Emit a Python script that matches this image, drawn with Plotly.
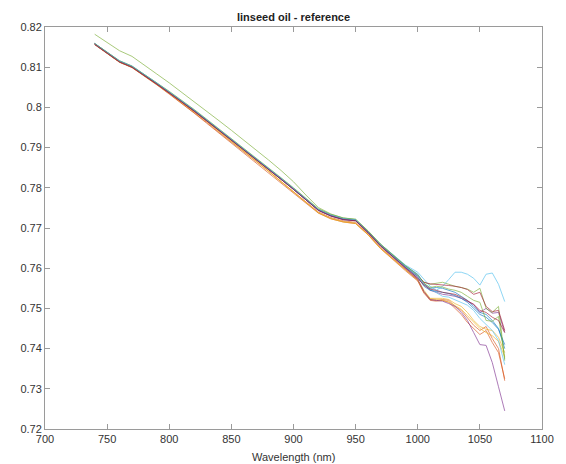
import plotly.graph_objects as go

wavelength = [740, 750, 760, 770, 780, 790, 800, 810, 820, 830, 840, 850, 860, 870, 880, 890,
              900, 910, 920, 930, 940, 950, 960, 970, 980, 990, 1000,
              1005, 1010, 1015, 1020, 1025, 1030, 1035, 1040, 1045, 1050, 1055, 1060, 1065, 1070]

s01 = [.8159,.8137,.8115,.8102,.8082,.8060,.8038,.8016,.7993,.7969,.7945,.7921,.7897,.7873,.7849,.7823,.7798,.7771,.7746,.7732,.7723,.7720,.7691,.7658,.7631,.7606,.7585,
       .7562,.7550,.7552,.7550,.7545,.7540,.7530,.7520,.7505,.7490,.7485,.7470,.7450,.7400]
s02 = [.8157,.8134,.8113,.8100,.8079,.8057,.8034,.8011,.7988,.7963,.7938,.7914,.7889,.7865,.7841,.7815,.7790,.7764,.7740,.7726,.7718,.7714,.7686,.7652,.7625,.7598,.7570,
       .7540,.7522,.7520,.7522,.7520,.7505,.7495,.7475,.7458,.7445,.7455,.7425,.7400,.7320]
s03 = [.8157,.8134,.8113,.8100,.8080,.8058,.8036,.8013,.7990,.7966,.7941,.7917,.7892,.7867,.7842,.7816,.7790,.7763,.7738,.7724,.7716,.7712,.7684,.7650,.7623,.7597,.7572,
       .7545,.7525,.7525,.7525,.7522,.7512,.7505,.7490,.7470,.7455,.7448,.7445,.7428,.7390]
s04 = [.8158,.8135,.8114,.8101,.8081,.8059,.8037,.8015,.7992,.7968,.7944,.7920,.7896,.7872,.7848,.7822,.7797,.7770,.7745,.7731,.7722,.7719,.7689,.7656,.7629,.7603,.7575,
       .7560,.7545,.7540,.7535,.7533,.7530,.7525,.7518,.7510,.7490,.7500,.7488,.7490,.7440]
s05 = [.8182,.8162,.8141,.8127,.8106,.8083,.8061,.8038,.8015,.7991,.7967,.7943,.7919,.7894,.7869,.7843,.7815,.7782,.7751,.7735,.7725,.7721,.7692,.7660,.7633,.7607,.7582,
       .7565,.7560,.7562,.7565,.7560,.7555,.7552,.7548,.7540,.7550,.7500,.7490,.7505,.7370]
s06 = [.8159,.8137,.8116,.8103,.8083,.8061,.8039,.8017,.7994,.7970,.7946,.7922,.7898,.7874,.7850,.7824,.7799,.7772,.7747,.7733,.7724,.7721,.7692,.7660,.7633,.7608,.7590,
       .7572,.7555,.7545,.7555,.7572,.7590,.7590,.7585,.7575,.7558,.7585,.7588,.7560,.7517]
s07 = [.8158,.8135,.8114,.8101,.8081,.8059,.8037,.8015,.7992,.7968,.7944,.7920,.7896,.7872,.7848,.7822,.7797,.7770,.7745,.7731,.7722,.7719,.7690,.7657,.7630,.7604,.7580,
       .7565,.7561,.7560,.7558,.7557,.7555,.7552,.7547,.7535,.7540,.7505,.7492,.7495,.7445]
s08 = [.8157,.8134,.8113,.8100,.8080,.8058,.8036,.8014,.7991,.7967,.7943,.7919,.7895,.7871,.7847,.7821,.7796,.7769,.7744,.7730,.7721,.7718,.7689,.7656,.7629,.7603,.7578,
       .7555,.7545,.7543,.7540,.7537,.7532,.7525,.7515,.7500,.7485,.7478,.7465,.7448,.7410]
s09 = [.8156,.8133,.8112,.8099,.8078,.8056,.8033,.8010,.7986,.7961,.7936,.7911,.7887,.7863,.7838,.7812,.7787,.7761,.7737,.7723,.7715,.7711,.7683,.7649,.7621,.7594,.7568,
       .7538,.7520,.7518,.7520,.7515,.7500,.7485,.7465,.7450,.7435,.7445,.7415,.7390,.7325]
s10 = [.8157,.8134,.8113,.8100,.8079,.8057,.8035,.8012,.7989,.7965,.7940,.7916,.7891,.7866,.7841,.7815,.7789,.7762,.7738,.7723,.7715,.7711,.7683,.7649,.7622,.7596,.7570,
       .7542,.7524,.7522,.7520,.7516,.7508,.7498,.7482,.7465,.7450,.7440,.7432,.7418,.7380]
s11 = [.8157,.8135,.8114,.8101,.8080,.8058,.8036,.8014,.7991,.7967,.7943,.7919,.7895,.7871,.7847,.7821,.7796,.7769,.7744,.7730,.7721,.7718,.7688,.7655,.7627,.7600,.7572,
       .7542,.7522,.7520,.7518,.7512,.7505,.7490,.7470,.7440,.7410,.7408,.7365,.7305,.7245]
s12 = [.8159,.8137,.8116,.8103,.8083,.8061,.8040,.8018,.7995,.7971,.7947,.7923,.7899,.7875,.7851,.7825,.7800,.7773,.7748,.7734,.7725,.7722,.7693,.7660,.7632,.7606,.7583,
       .7562,.7552,.7555,.7553,.7548,.7545,.7540,.7530,.7520,.7515,.7470,.7468,.7480,.7375]
s13 = [.8158,.8136,.8115,.8102,.8082,.8060,.8038,.8016,.7993,.7969,.7945,.7921,.7897,.7873,.7849,.7823,.7798,.7771,.7746,.7732,.7723,.7720,.7690,.7657,.7630,.7604,.7582,
       .7560,.7548,.7540,.7530,.7528,.7522,.7515,.7508,.7495,.7475,.7460,.7445,.7420,.7360]
s14 = [.8157,.8134,.8113,.8100,.8080,.8058,.8036,.8014,.7991,.7967,.7943,.7919,.7895,.7871,.7847,.7821,.7796,.7769,.7744,.7730,.7721,.7718,.7689,.7656,.7628,.7601,.7575,
       .7558,.7548,.7545,.7540,.7538,.7535,.7528,.7520,.7510,.7495,.7490,.7478,.7470,.7440]

series = [s01, s02, s03, s04, s05, s06, s07, s08, s09, s10, s11, s12, s13, s14]
colors = ["#0072BD", "#D95319", "#EDB120", "#7E2F8E", "#77AC30", "#4DBEEE", "#A2142F"]

x_ticks = [700, 750, 800, 850, 900, 950, 1000, 1050, 1100]
y_ticks = [0.72, 0.73, 0.74, 0.75, 0.76, 0.77, 0.78, 0.79, 0.80, 0.81, 0.82]
y_tick_text = ["0.72", "0.73", "0.74", "0.75", "0.76", "0.77", "0.78", "0.79", "0.8", "0.81", "0.82"]

title_text = "linseed oil - reference"
xlabel_text = "Wavelength (nm)"

fig = go.Figure()
for i, s in enumerate(series):
    fig.add_trace(go.Scatter(x=wavelength, y=s, mode="lines",
                             line=dict(color=colors[i % 7], width=0.9),
                             opacity=0.7, showlegend=False, hoverinfo="skip"))

axis_common = dict(showline=True, linecolor="#9a9a9a", linewidth=1, mirror="ticks",
                   ticks="inside", ticklen=5, tickcolor="#9a9a9a", showgrid=False,
                   zeroline=False, tickfont=dict(family="Liberation Sans, Arial", size=11, color="#333333"))

# The page body has an 8px margin, so the figure is sized and offset to compensate.
fig.update_layout(
    width=558, height=456,
    margin=dict(l=32, r=17, t=19, b=35),
    paper_bgcolor="white", plot_bgcolor="white",
    xaxis=dict(range=[700, 1100], tickvals=x_ticks, **axis_common),
    yaxis=dict(range=[0.72, 0.82], tickvals=y_ticks, ticktext=y_tick_text, **axis_common),
    annotations=[
        dict(text="<b>" + title_text + "</b>", x=0.5, y=1, xref="paper", yref="paper",
             xanchor="center", yanchor="bottom", yshift=2, showarrow=False,
             font=dict(family="Liberation Sans, Arial", size=11, color="#222222")),
        dict(text=xlabel_text, x=0.5, y=0, xref="paper", yref="paper",
             xanchor="center", yanchor="top", yshift=-20, showarrow=False,
             font=dict(family="Liberation Sans, Arial", size=11, color="#333333")),
    ],
)

fig.write_html("out.html")
